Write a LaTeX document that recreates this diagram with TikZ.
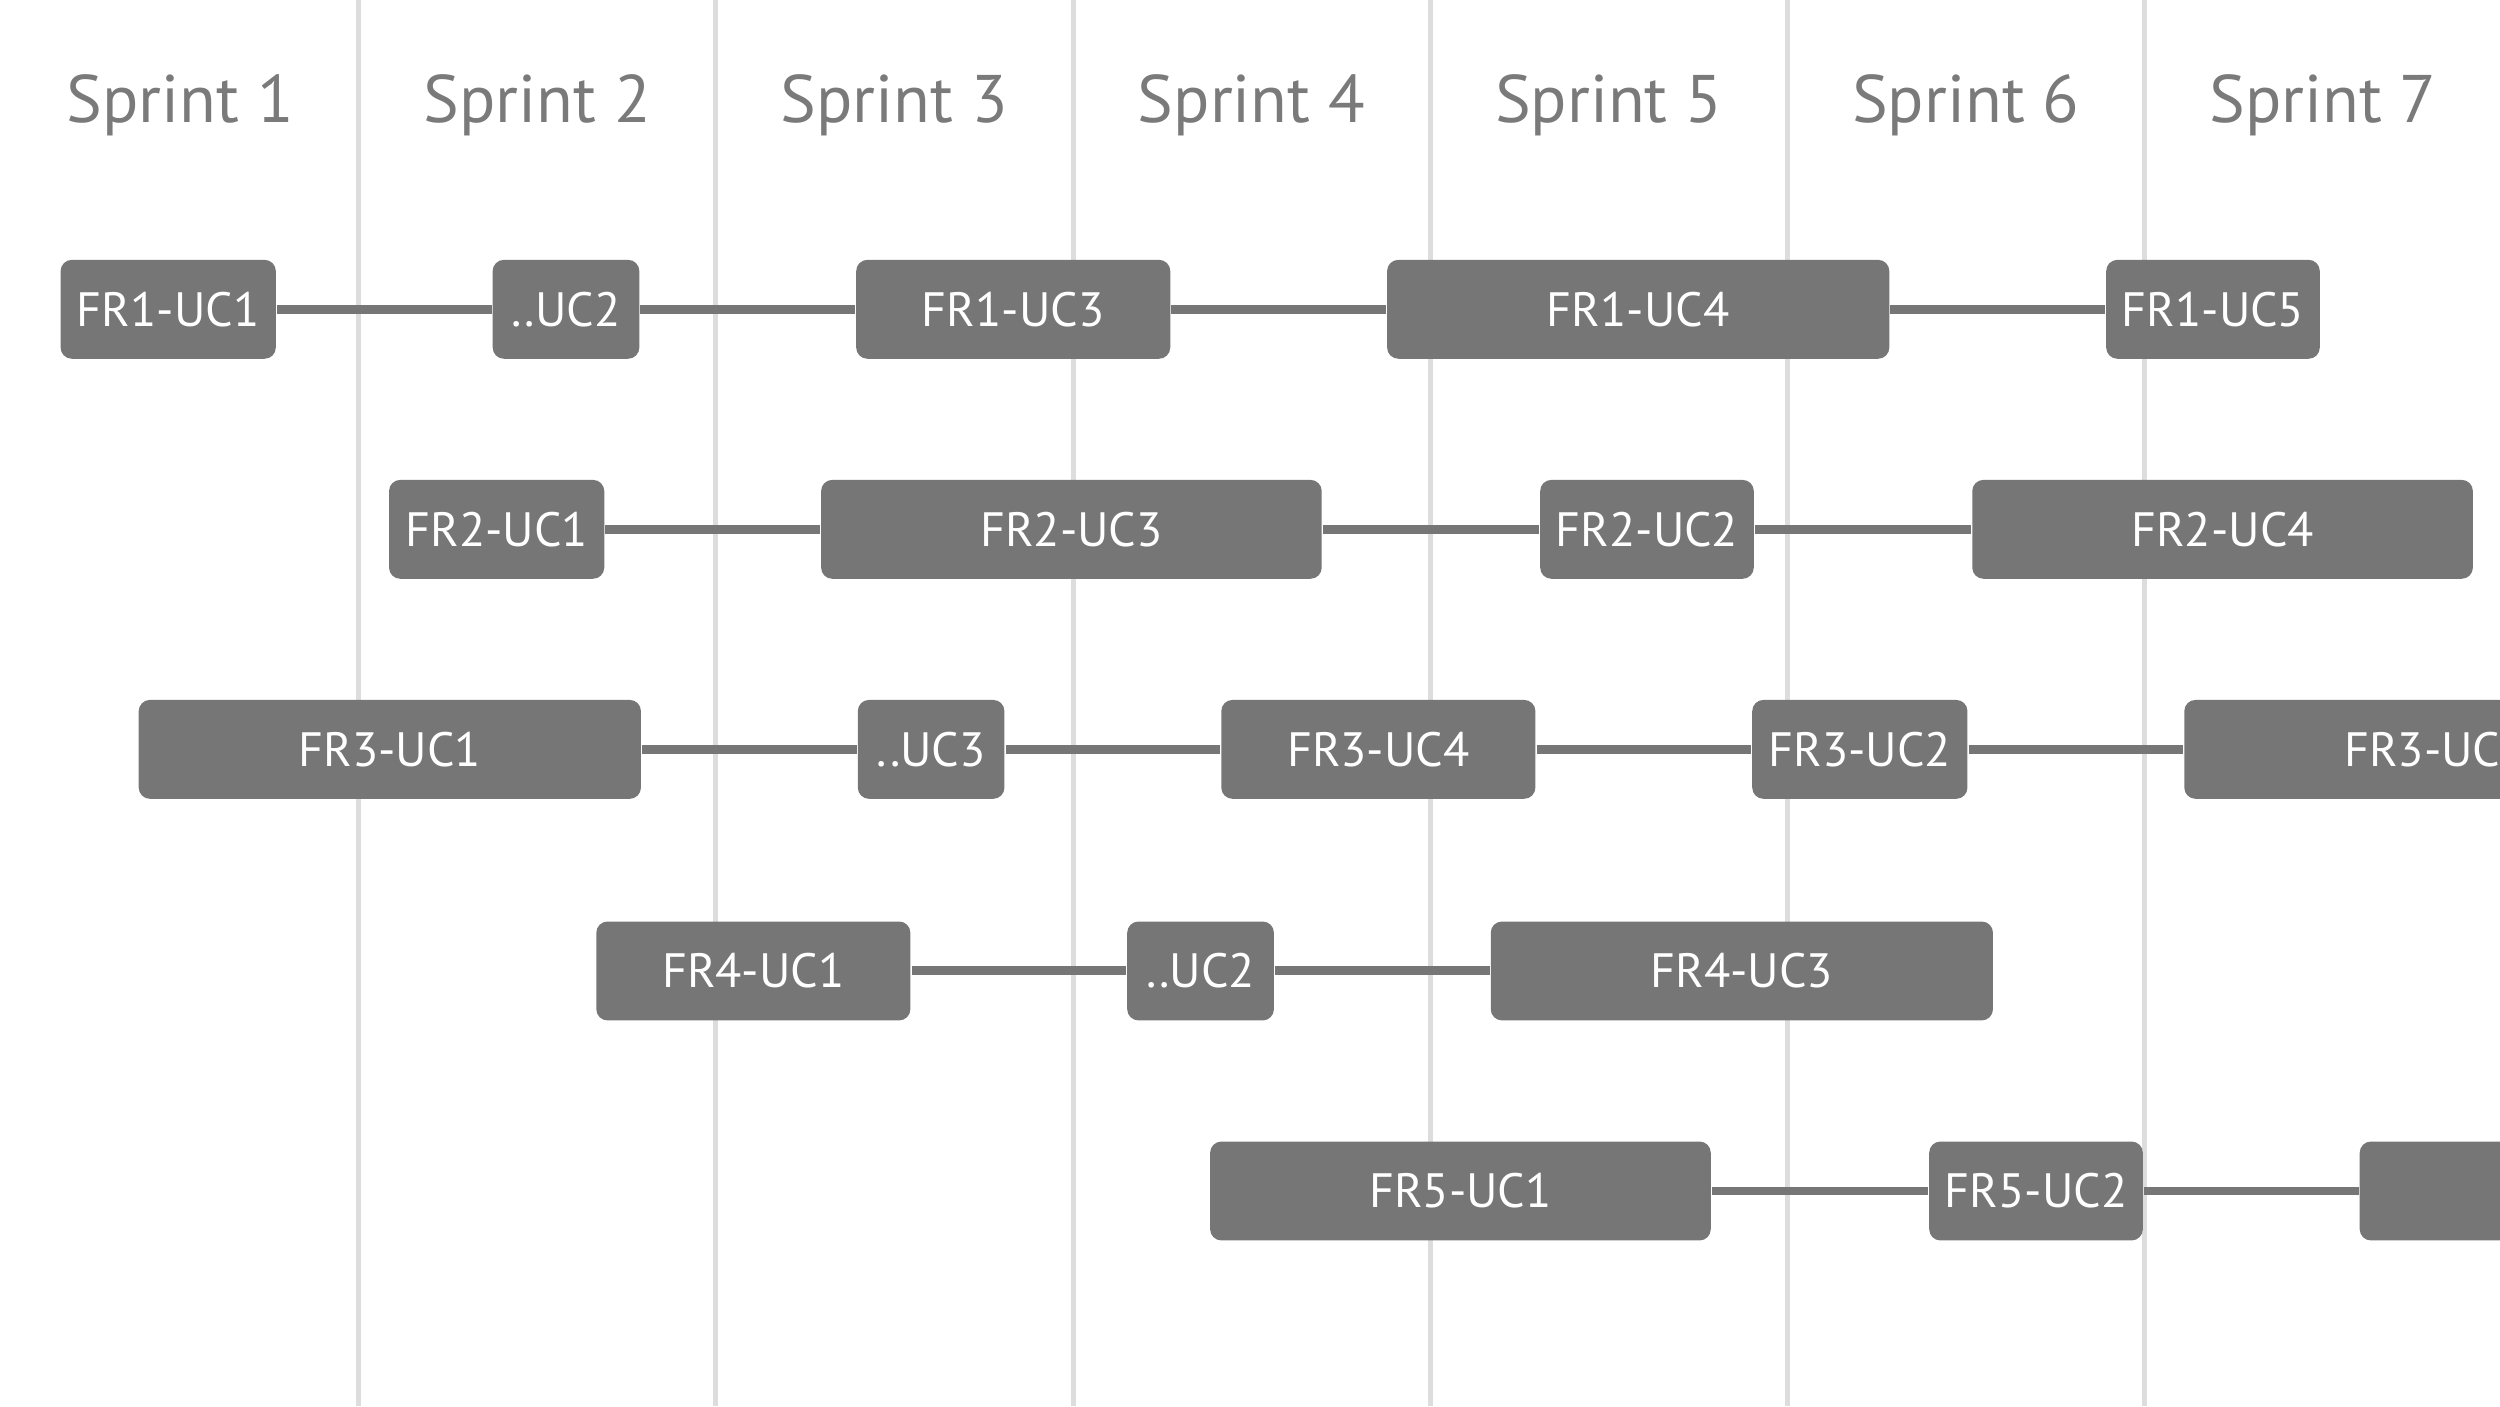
\documentclass[tikz,border=0pt]{standalone}
\usepackage{fontspec}
\setmainfont{PT Sans}
\definecolor{boxgray}{HTML}{767676}
\definecolor{gridgray}{HTML}{DDDDDD}
\definecolor{labelgray}{HTML}{7A7A7A}
\tikzset{
  task/.style={fill=boxgray, rounded corners=2pt, text=white, inner sep=0pt,
    minimum height=0.62cm, font=\fontsize{8.6}{10}\selectfont},
  link/.style={draw=boxgray, line width=1.6pt},
  sprint/.style={anchor=west, text=labelgray, font=\fontsize{12}{14}\selectfont, inner sep=0pt}
}
% task box from x1 to x2 at height y
\newcommand{\task}[5]{\node[task, minimum width={(#3-#2)*0.01cm}] (#1) at ({(#2+#3)/2},#4) {#5};}
\begin{document}
\begin{tikzpicture}[x=0.01cm, y=-0.01cm]
    \useasboundingbox (0,0) rectangle (1568,882);
    \clip (0,0) rectangle (1568,882);

    % Sprint columns
    \foreach \i in {1,...,6}
        \draw[gridgray, line width=0.9pt] ({1+224*\i},0) -- ({1+224*\i},882);
    \foreach \i in {1,...,7}
        \node[sprint] (s\i) at ({41+224*(\i-1)},66) {Sprint \i};

    % Row 1
    \task{a1}{38}{173}{194}{FR1-UC1}
    \task{a2}{309}{401}{194}{..UC2}
    \task{a3}{537}{734}{194}{FR1-UC3}
    \task{a4}{870}{1185}{194}{FR1-UC4}
    \task{a5}{1321}{1455}{194}{FR1-UC5}
    % Row 2
    \task{b1}{244}{379}{332}{FR2-UC1}
    \task{b2}{515}{829}{332}{FR2-UC3}
    \task{b3}{966}{1100}{332}{FR2-UC2}
    \task{b4}{1237}{1551}{332}{FR2-UC4}
    % Row 3
    \task{c1}{87}{402}{470}{FR3-UC1}
    \task{c2}{538}{630}{470}{..UC3}
    \task{c3}{766}{963}{470}{FR3-UC4}
    \task{c4}{1099}{1234}{470}{FR3-UC2}
    \task{c5}{1370}{1685}{470}{FR3-UC5}
    % Row 4
    \task{d1}{374}{571}{609}{FR4-UC1}
    \task{d2}{707}{799}{609}{..UC2}
    \task{d3}{935}{1250}{609}{FR4-UC3}
    % Row 5
    \task{e1}{759}{1073}{747}{FR5-UC1}
    \task{e2}{1210}{1344}{747}{FR5-UC2}
    \task{e3}{1480}{1795}{747}{}

    % Links
    \draw[link] (a1) -- (a2) (a2) -- (a3) (a3) -- (a4) (a4) -- (a5);
    \draw[link] (b1) -- (b2) (b2) -- (b3) (b3) -- (b4);
    \draw[link] (c1) -- (c2) (c2) -- (c3) (c3) -- (c4) (c4) -- (c5);
    \draw[link] (d1) -- (d2) (d2) -- (d3);
    \draw[link] (e1) -- (e2) (e2) -- (e3);
\end{tikzpicture}
\end{document}
